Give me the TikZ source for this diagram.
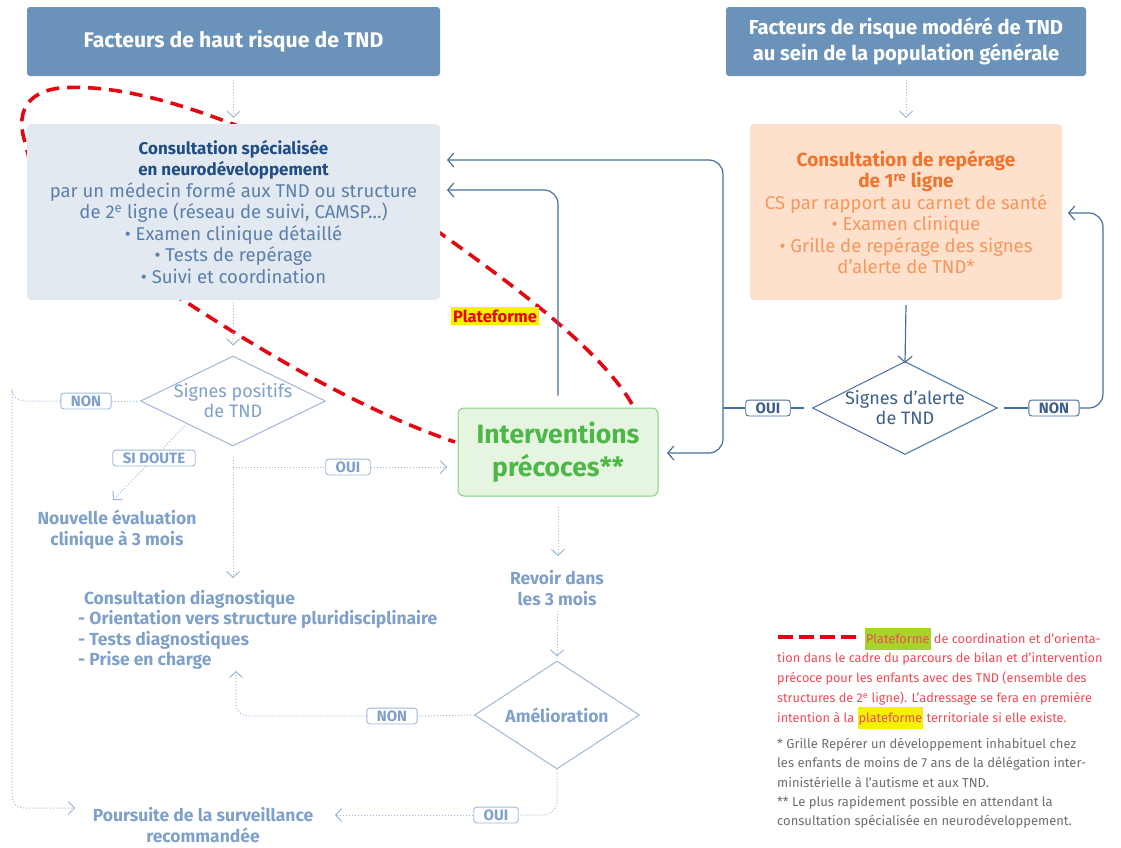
\documentclass[tikz,border=0pt]{standalone}
\usepackage{fontspec}
\setmainfont{Fira Sans}
\usetikzlibrary{arrows.meta,shapes.geometric,calc}
\definecolor{hdrc}{HTML}{6B93B9}
\definecolor{csfill}{HTML}{E3E9F1}
\definecolor{cstitle}{HTML}{1F4E85}
\definecolor{csbody}{HTML}{5B7FAB}
\definecolor{orfill}{HTML}{FDE1CC}
\definecolor{ortitle}{HTML}{EF7430}
\definecolor{orbody}{HTML}{F5975E}
\definecolor{darkc}{HTML}{46709D}
\definecolor{darktext}{HTML}{3D5F88}
\definecolor{lightc}{HTML}{9DB8D8}
\definecolor{lighttext}{HTML}{7FA0C8}
\definecolor{gfill}{HTML}{E6F5E2}
\definecolor{gdraw}{HTML}{86D07F}
\definecolor{gtext}{HTML}{4DB848}
\definecolor{redc}{HTML}{E30613}
\definecolor{legred}{HTML}{EE4A55}
\definecolor{leggray}{HTML}{6E6E6E}
\definecolor{hlgreen}{HTML}{A8D42A}
\definecolor{hlyellow}{HTML}{F4F200}
\tikzset{
  hdrbox/.style={fill=hdrc, rounded corners=3pt, text=white, align=center, inner sep=0pt,
    font=\bfseries\fontsize{21.2}{26}\selectfont},
  csbox/.style={fill=csfill, rounded corners=4pt, align=center, inner sep=0pt, text=csbody,
    font=\fontsize{18.5}{21.5}\selectfont},
  orbox/.style={fill=orfill, rounded corners=4pt, align=center, inner sep=0pt, text=orbody,
    font=\fontsize{18.5}{21.5}\selectfont},
  ivbox/.style={fill=gfill, draw=gdraw, line width=1pt, rounded corners=6pt, align=center, inner sep=0pt,
    text=gtext, font=\bfseries\fontsize{26.5}{33}\selectfont},
  darkdia/.style={diamond, draw=darkc, line width=1pt, fill=white, inner sep=-5pt, shape aspect=2,
    align=center, text=darktext, font=\fontsize{18}{20}\selectfont},
  lightdia/.style={diamond, draw=lightc, line width=1pt, fill=white, inner sep=-6pt, shape aspect=2,
    align=center, text=lighttext, font=\fontsize{18}{20}\selectfont},
  lighttxt/.style={align=center, text=lighttext, inner sep=1pt, font=\bfseries\fontsize{17.5}{21}\selectfont},
  darklab/.style={draw=darkc, fill=white, rounded corners=3pt, line width=0.9pt, text=darktext,
    font=\bfseries\fontsize{15}{15}\selectfont, inner xsep=10pt, inner ysep=2.5pt},
  lightlab/.style={draw=lightc, fill=white, rounded corners=3pt, line width=0.9pt, text=lighttext,
    font=\bfseries\fontsize{15}{15}\selectfont, inner xsep=10pt, inner ysep=2.5pt},
  darkline/.style={draw=darkc, line width=1.2pt},
  darkarrow/.style={draw=darkc, line width=1.2pt, -{Straight Barb[length=6pt,width=14pt,line width=1.2pt]}},
  lightline/.style={draw=lightc, line width=1pt, dotted},
  lightarrow/.style={draw=lightc, line width=1pt, dotted, -{Straight Barb[length=6pt,width=13pt,line width=1pt]}},
  reddash/.style={draw=redc, line width=3.6pt, dash pattern=on 13pt off 8pt},
}
\begin{document}
\begin{tikzpicture}[x=1pt,y=-1pt]
\useasboundingbox (0,0) rectangle (1121,847);

% red platform curve (behind boxes)
\draw[reddash] (632,404) .. controls (600,350) and (520,290) .. (440,233)
  .. controls (360,180) and (290,145) .. (230,123)
  .. controls (170,100) and (110,84) .. (60,88)
  .. controls (25,92) and (15,115) .. (26,145)
  .. controls (40,220) and (110,265) .. (183,300)
  .. controls (260,350) and (360,410) .. (455,442);

% header boxes
\node[hdrbox, minimum width=413pt, minimum height=69pt] (h1) at (233.5,41.5) {Facteurs de haut risque de TND};
\node[hdrbox, minimum width=360pt, minimum height=69pt, font=\bfseries\fontsize{20.2}{26}\selectfont] (h2) at (906,41.5) {Facteurs de risque modéré de TND\\au sein de la population générale};

% consultation specialisee
\node[csbox, minimum width=413pt, minimum height=176pt] (cs) at (233.5,212)
  {{\bfseries\color{cstitle}\fontsize{17}{21.5}\selectfont Consultation spécialisée}\\
   {\bfseries\color{cstitle}\fontsize{17}{21.5}\selectfont en neurodéveloppement}\\
   par un médecin formé aux TND ou structure\\
   de 2\textsuperscript{e} ligne (réseau de suivi, CAMSP...)\\
   • Examen clinique détaillé\\
   • Tests de repérage\\
   • Suivi et coordination};

% orange box
\node[orbox, minimum width=312pt, minimum height=176pt] (or) at (906,212)
  {{\bfseries\color{ortitle}\fontsize{19}{21.5}\selectfont Consultation de repérage}\\
   {\bfseries\color{ortitle}\fontsize{19}{21.5}\selectfont de 1\textsuperscript{re} ligne}\\
   CS par rapport au carnet de santé\\
   • Examen clinique\\
   • Grille de repérage des signes\\
   d'alerte de TND*};

% interventions precoces
\node[ivbox, minimum width=200pt, minimum height=88pt] (iv) at (558,452) {Interventions\\précoces**};

% plateforme label
\node[fill=hlyellow, text=redc, font=\bfseries\fontsize{16.5}{17}\selectfont, inner xsep=2pt, inner ysep=3pt] (pf) at (495,316) {Plateforme};

% diamonds
\node[darkdia, minimum width=185pt, minimum height=93pt] (dr) at (905,408) {Signes d'alerte\\de TND};
\node[lightdia, minimum width=185pt, minimum height=90pt] (dl) at (233,401) {Signes positifs\\de TND};
\node[lightdia, minimum width=165pt, minimum height=108pt, inner sep=0pt, font=\bfseries\fontsize{17.5}{20}\selectfont] (am) at (557,715) {Amélioration};

% light text nodes
\node[lighttxt] (ne) at (117,530) {Nouvelle évaluation\\clinique à 3 mois};
\node[lighttxt, align=left, anchor=north west, font=\bfseries\fontsize{17.5}{20.3}\selectfont] (cd) at (77,589)
  {\,\,Consultation diagnostique\\
   - Orientation vers structure pluridisciplinaire\\
   - Tests diagnostiques\\
   - Prise en charge};
\node[lighttxt] (rv) at (557,588) {Revoir dans\\les 3 mois};
\node[lighttxt] (ps) at (203,825) {Poursuite de la surveillance\\recommandée};

% coordinates for junctions and arrow tips
\coordinate (jR) at (723,408);
\coordinate (tA) at (447,160);
\coordinate (tB) at (447,190);
\coordinate (tC) at (667,453);
\coordinate (cR) at (1103,408);
\coordinate (tD) at (1068,213);
\coordinate (cL) at (12,401);
\coordinate (tE) at (75,808);
\coordinate (tF) at (113,500);
\coordinate (jL) at (233,467);
\coordinate (tG) at (233,578);
\coordinate (tH) at (447,467);
\coordinate (tI) at (558,556);
\coordinate (tJ) at (236,671);
\coordinate (tK) at (335,815);

% labels
\node[darklab] (ouiR) at (768,408) {OUI};
\node[darklab] (nonR) at (1054,408) {NON};
\node[lightlab] (nonL) at (86,401) {NON};
\node[lightlab] (sid) at (154,458) {SI DOUTE};
\node[lightlab] (ouiL) at (348,467) {OUI};
\node[lightlab] (nonA) at (392,716) {NON};
\node[lightlab] (ouiA) at (496,815) {OUI};

% dark connectors
\draw[darkarrow] (or.south) ++(0,5) -- ([yshift=-2pt]dr.north);
\draw[darkline, shorten <=8pt] (dr.west) -- (ouiR.east);
\draw[darkline] (ouiR.west) -- (jR);
\draw[darkarrow, rounded corners=14pt] (jR) |- (tA);
\draw[darkarrow, rounded corners=14pt] (jR) |- (tC);
\draw[darkarrow, rounded corners=14pt] (iv.north) ++(0,-12) |- (tB);
\draw[darkline, shorten <=6pt] (dr.east) -- (nonR.west);
\draw[darkarrow, rounded corners=14pt] (nonR.east) -- (cR) |- (tD);

% light connectors
\draw[lightarrow] ([yshift=-4pt]h1.south) -- ([yshift=6pt]cs.north);
\draw[lightarrow] ([yshift=-4pt]h2.south) -- ([yshift=6pt]or.north);
\draw[lightarrow] ([yshift=-2pt]cs.south) -- ([yshift=10pt]dl.north);
\draw[lightline, shorten <=3pt] (dl.west) -- (nonL.east);
\draw[lightarrow, rounded corners=12pt] (nonL.west) -| (cL) |- (tE);
\draw[lightline, shorten <=3pt] (dl.south west) -- (sid);
\draw[lightarrow] (sid) -- (tF);
\draw[lightarrow] ([yshift=-10pt]dl.south) -- (tG);
\draw[lightline] (jL) -- (ouiL.west);
\draw[lightarrow] (ouiL.east) -- (tH);
\draw[lightarrow] ([yshift=-10pt]iv.south) -- (tI);
\draw[lightarrow] ([yshift=-4pt]rv.south) -- ([yshift=4pt]am.north);
\draw[lightline] (am.west) -- (nonA.east);
\draw[lightarrow, rounded corners=12pt] (nonA.west) -| (tJ);
\draw[lightline, rounded corners=14pt] (am.south) |- (ouiA.east);
\draw[lightarrow] (ouiA.west) -- (tK);

% legend
\coordinate (lgA) at (778,637);
\coordinate (lgB) at (856,637);
\draw[reddash, dash pattern=on 15pt off 6pt] (lgA) -- (lgB);
\node[anchor=north west, align=left, inner sep=0pt, text=legred, font=\fontsize{12.7}{19.8}\selectfont] (leg) at (777,628)
  {\hspace*{88pt}{\setlength{\fboxsep}{1pt}\colorbox{hlgreen}{\strut Plateforme}} de coordination et d'orienta-\\
   tion dans le cadre du parcours de bilan et d'intervention\\
   précoce pour les enfants avec des TND (ensemble des\\
   structures de 2\textsuperscript{e} ligne). L'adressage se fera en première\\
   intention à la {\setlength{\fboxsep}{1pt}\colorbox{hlyellow}{\strut plateforme}} territoriale si elle existe.};
\node[anchor=north west, align=left, inner sep=0pt, text=leggray, font=\fontsize{13}{19.3}\selectfont] (notes) at (777,738)
  {* Grille Repérer un développement inhabituel chez\\
   les enfants de moins de 7 ans de la délégation inter-\\
   ministérielle à l'autisme et aux TND.\\
   ** Le plus rapidement possible en attendant la\\
   consultation spécialisée en neurodéveloppement.};
\end{tikzpicture}
\end{document}
